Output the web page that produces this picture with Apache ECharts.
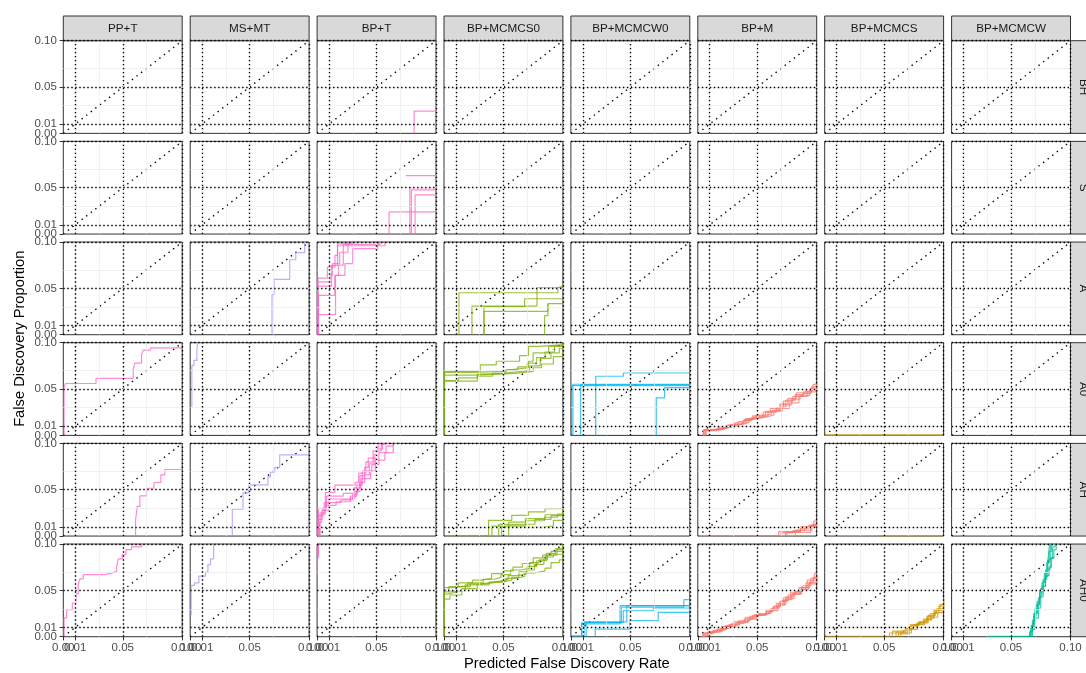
<!DOCTYPE html>
<html>
<head>
<meta charset="utf-8">
<script src="https://cdn.jsdelivr.net/npm/echarts@6/dist/echarts.min.js"></script>
<style>
  html, body { margin: 0; padding: 0; background: #fff; }
  #chart { width: 1086px; height: 673px; }
</style>
</head>
<body>
<div id="chart"></div>
<script>
// Facet labels
const methods = ['PP+T', 'MS+MT', 'BP+T', 'BP+MCMCS0', 'BP+MCMCW0', 'BP+M', 'BP+MCMCS', 'BP+MCMCW'];
const scenarios = ['BH', 'S', 'A', 'A0', 'AH', 'AH0'];
const methodColors = ['#FF61C3', '#A496FF', '#FF61C3', '#7CAE00', '#00B4EF', '#F8766D', '#CD9600', '#00BE9A'];

// Axis breaks
const tickValues = [0, 0.01, 0.05, 0.10];
const labelValues = [0.01, 0.05, 0.10];
const originLabel = [0];
const refLines = [0.01, 0.05, 0.10];
const majorBreaks = [0.01, 0.05];
const minorBreaks = [0.005, 0.03, 0.075];

// Observed FDP vs predicted FDR, one step curve per replicate: [predicted FDR, FDP]
const BH_BPT = [
  [[0.0816, 0], [0.0816, 0.0241], [0.1, 0.0241]]
];
const S_BPT = [
  [[0.0746, 0.0631], [0.1, 0.0631]],
  [[0.0780, 0], [0.0780, 0.0500], [0.1, 0.0500]],
  [[0.0793, 0], [0.0793, 0.0477], [0.1, 0.0477]],
  [[0.0824, 0], [0.0824, 0.0423], [0.1, 0.0423]],
  [[0.0605, 0], [0.0605, 0.0240], [0.1, 0.0240]]
];
const A_MSMT = [
  [[0.0688, 0], [0.0688, 0.0432], [0.0705, 0.0597], [0.0837, 0.0809], [0.0888, 0.0885], [0.0963, 0.105]]
];
const A_BPT = [
  [[0.0003, 0], [0.0003, 0.0216], [0.0155, 0.064], [0.018, 0.075], [0.022, 0.0975], [0.053, 0.105]],
  [[0.0006, 0], [0.0006, 0.0525], [0.0121, 0.0748], [0.0172, 0.098], [0.031, 0.105]],
  [[0.0012, 0], [0.0012, 0.0424], [0.0149, 0.064], [0.0234, 0.0766], [0.030, 0.093], [0.051, 0.0946], [0.051, 0.105]],
  [[0.0008, 0], [0.0008, 0.061], [0.0087, 0.073], [0.015, 0.0856], [0.0172, 0.096], [0.057, 0.105]],
  [[0.0004, 0], [0.0004, 0.057], [0.0107, 0.064], [0.0129, 0.0766], [0.019, 0.089], [0.026, 0.105]]
];
const A_BPMCMCS0 = [
  [[0.0126, 0], [0.0126, 0.0453], [0.0958, 0.0507], [0.1, 0.0507]],
  [[0.0235, 0], [0.0235, 0.0309], [0.0782, 0.0507], [0.0958, 0.0525], [0.1, 0.0525]],
  [[0.0336, 0], [0.0336, 0.0302], [0.0678, 0.0388], [0.1, 0.0388]],
  [[0.0336, 0], [0.0336, 0.0252], [0.0874, 0.0335], [0.1, 0.0335]],
  [[0.0846, 0], [0.0846, 0.0205], [0.0874, 0.0335]]
];
const A0_PPT = [
  [[0.0006, 0], [0.0006, 0.052], [0.002, 0.056], [0.0275, 0.0615], [0.0588, 0.0709], [0.0602, 0.078],
   [0.0658, 0.0876], [0.0672, 0.092], [0.0734, 0.0945], [0.1, 0.0945]]
];
const A0_MSMT = [
  [[0.0014, 0.030], [0.0014, 0.0756], [0.0031, 0.081], [0.0056, 0.090], [0.0065, 0.105]]
];
const A0_BPMCMCS0 = [
  [[0.0005, 0], [0.0005, 0.069], [0.0305, 0.076], [0.044, 0.080], [0.0635, 0.086], [0.071, 0.096], [0.080, 0.098], [0.1, 0.1]],
  [[0, 0.068], [0.025, 0.069], [0.050, 0.071], [0.057, 0.073], [0.071, 0.080], [0.075, 0.089], [0.088, 0.096], [0.1, 0.098]],
  [[0, 0.065], [0.025, 0.067], [0.050, 0.068], [0.057, 0.069], [0.066, 0.070], [0.072, 0.075], [0.081, 0.083], [0.090, 0.089], [0.097, 0.094], [0.1, 0.096]],
  [[0, 0.059], [0.012, 0.062], [0.028, 0.066], [0.045, 0.067], [0.060, 0.069], [0.075, 0.073], [0.082, 0.077], [0.092, 0.085], [0.1, 0.090]],
  [[0, 0.0585], [0.028, 0.064], [0.041, 0.067], [0.052, 0.071], [0.062, 0.074], [0.070, 0.078], [0.078, 0.084], [0.085, 0.090], [0.093, 0.097], [0.1, 0.099]]
];
const A0_BPMCMCW0 = [
  [[0.0006, 0], [0.0006, 0.0536], [0.1, 0.0536]],
  [[0.0017, 0], [0.0017, 0.0552], [0.1, 0.0552]],
  [[0.0082, 0], [0.0082, 0.0547], [0.1, 0.0547]],
  [[0.0209, 0], [0.0209, 0.0638], [0.0441, 0.0673], [0.1, 0.0673]],
  [[0.0718, 0], [0.0718, 0.0405], [0.0788, 0.0515], [0.1, 0.0515]]
];
const A0_BPM = [
  [[0.0045, 0], [0.0045, 0.0055], [0.012, 0.0062], [0.022, 0.0095], [0.030, 0.012], [0.038, 0.016], [0.045, 0.019], [0.052, 0.021],
   [0.059, 0.025], [0.066, 0.030], [0.072, 0.037], [0.080, 0.042], [0.088, 0.045], [0.095, 0.051], [0.1, 0.053]],
  [[0.0065, 0], [0.0065, 0.006], [0.015, 0.008], [0.026, 0.011], [0.034, 0.015], [0.040, 0.018], [0.049, 0.022], [0.057, 0.026],
   [0.063, 0.028], [0.069, 0.034], [0.076, 0.040], [0.083, 0.046], [0.091, 0.049], [0.097, 0.055], [0.1, 0.056]],
  [[0.0048, 0], [0.0048, 0.006], [0.018, 0.009], [0.028, 0.012], [0.036, 0.014], [0.043, 0.018], [0.050, 0.020], [0.058, 0.022],
   [0.064, 0.026], [0.071, 0.029], [0.077, 0.035], [0.085, 0.042], [0.092, 0.047], [0.1, 0.050]],
  [[0.0055, 0], [0.0055, 0.0065], [0.020, 0.0085], [0.025, 0.011], [0.033, 0.013], [0.041, 0.017], [0.047, 0.020], [0.055, 0.025],
   [0.061, 0.029], [0.068, 0.031], [0.074, 0.038], [0.082, 0.044], [0.089, 0.047], [0.096, 0.053], [0.1, 0.058]],
  [[0.007, 0], [0.007, 0.005], [0.016, 0.0075], [0.023, 0.010], [0.031, 0.0135], [0.039, 0.017], [0.046, 0.021], [0.054, 0.023],
   [0.062, 0.027], [0.070, 0.033], [0.079, 0.039], [0.086, 0.043], [0.094, 0.049], [0.1, 0.051]]
];
const A0_BPMCMCS = [
  [[0, 0.0003], [0.1, 0.0003]],
  [[0, 0.0002], [0.1, 0.0002]]
];
const AH_PPT = [
  [[0.0608, 0], [0.0608, 0.017], [0.0622, 0.032], [0.0644, 0.0433], [0.070, 0.0516], [0.0762, 0.0578], [0.0821, 0.066], [0.0854, 0.0718], [0.1, 0.0718]]
];
const AH_MSMT = [
  [[0.0354, 0], [0.0354, 0.0289], [0.0444, 0.0466], [0.0494, 0.0552], [0.0654, 0.0639], [0.0674, 0.069], [0.0711, 0.074], [0.0753, 0.0877], [0.1, 0.0877]]
];
const AH_BPT = [
  [[0.0008, 0], [0.0008, 0.022], [0.005, 0.030], [0.008, 0.043], [0.022, 0.046], [0.031, 0.052], [0.036, 0.065], [0.040, 0.074], [0.043, 0.084], [0.050, 0.094], [0.055, 0.1], [0.060, 0.105]],
  [[0.002, 0], [0.002, 0.015], [0.004, 0.028], [0.010, 0.040], [0.028, 0.043], [0.033, 0.055], [0.038, 0.070], [0.046, 0.077], [0.052, 0.090], [0.058, 0.097], [0.064, 0.105]],
  [[0.0012, 0], [0.0012, 0.030], [0.007, 0.047], [0.015, 0.055], [0.032, 0.058], [0.035, 0.068], [0.041, 0.080], [0.047, 0.092], [0.054, 0.099], [0.057, 0.105]],
  [[0.0025, 0], [0.0025, 0.025], [0.006, 0.036], [0.020, 0.039], [0.030, 0.045], [0.034, 0.050], [0.037, 0.062], [0.045, 0.070], [0.049, 0.082], [0.057, 0.090], [0.064, 0.1], [0.068, 0.105]],
  [[0.0005, 0], [0.0005, 0.018], [0.004, 0.024], [0.007, 0.033], [0.016, 0.037], [0.028, 0.041], [0.032, 0.048], [0.036, 0.058], [0.040, 0.066], [0.044, 0.078], [0.048, 0.088], [0.050, 0.096], [0.052, 0.105]]
];
const AH_BPMCMCS0 = [
  [[0, 0.0005], [0.0375, 0.0005], [0.0375, 0.017], [0.057, 0.0224], [0.071, 0.026], [0.085, 0.0296], [0.1, 0.031]],
  [[0.0403, 0], [0.0403, 0.0108], [0.0544, 0.015], [0.0685, 0.0188], [0.085, 0.023], [0.1, 0.026]],
  [[0.0544, 0], [0.0544, 0.011], [0.0685, 0.0165], [0.0845, 0.0203], [0.0955, 0.0238], [0.1, 0.0245]],
  [[0.046, 0], [0.046, 0.0125], [0.062, 0.0128], [0.0765, 0.018], [0.090, 0.022], [0.1, 0.028]],
  [[0.0485, 0], [0.0485, 0.0095], [0.0645, 0.0095], [0.0845, 0.011], [0.092, 0.017], [0.1, 0.019]]
];
const AH_BPM = [
  [[0, 0.0005], [0.068, 0.0005], [0.068, 0.0047], [0.0863, 0.010], [0.0975, 0.0162], [0.1, 0.0162]],
  [[0.0737, 0], [0.0737, 0.0047], [0.0863, 0.0085], [0.0933, 0.0115], [0.1, 0.012]],
  [[0.070, 0], [0.070, 0.0035], [0.080, 0.006], [0.090, 0.0098], [0.1, 0.011]],
  [[0.075, 0], [0.075, 0.004], [0.095, 0.0115], [0.1, 0.014]],
  [[0.082, 0], [0.082, 0.0065], [0.096, 0.0125], [0.1, 0.0125]]
];
const AH_BPMCMCS = [
  [[0.045, 0.0002], [0.1, 0.0002]]
];
const AH0_PPT = [
  [[0.0006, 0], [0.0006, 0.0204], [0.0028, 0.0293], [0.0076, 0.0364], [0.0106, 0.0464], [0.0126, 0.0564], [0.014, 0.0625], [0.0168, 0.0671],
   [0.035, 0.0686], [0.0406, 0.0707], [0.0448, 0.075], [0.0462, 0.084], [0.0496, 0.0886], [0.0527, 0.094], [0.0574, 0.097], [0.0658, 0.102]]
];
const AH0_MSMT = [
  [[0.0008, 0.0232], [0.0008, 0.0554], [0.0037, 0.058], [0.0073, 0.0654], [0.0129, 0.0696], [0.0149, 0.0779], [0.0171, 0.084], [0.0197, 0.102]]
];
const AH0_BPT = [
  [[0.0003, 0.070], [0.0003, 0.102]],
  [[0.0012, 0.085], [0.0012, 0.102]],
  [[0.0008, 0.090], [0.0008, 0.102]]
];
const AH0_BPMCMCS0 = [
  [[0.0003, 0], [0.0003, 0.050], [0.004, 0.054], [0.012, 0.058], [0.024, 0.061], [0.031, 0.063], [0.040, 0.068], [0.050, 0.071], [0.058, 0.075],
   [0.066, 0.079], [0.075, 0.085], [0.083, 0.088], [0.090, 0.092], [0.1, 0.097]],
  [[0, 0.053], [0.008, 0.055], [0.020, 0.058], [0.033, 0.062], [0.042, 0.064], [0.048, 0.067], [0.056, 0.072], [0.065, 0.074], [0.072, 0.080],
   [0.080, 0.083], [0.087, 0.088], [0.095, 0.094], [0.1, 0.1]],
  [[0, 0.0485], [0.006, 0.050], [0.018, 0.056], [0.027, 0.058], [0.036, 0.060], [0.047, 0.062], [0.054, 0.066], [0.062, 0.068], [0.070, 0.072],
   [0.076, 0.078], [0.084, 0.086], [0.092, 0.089], [0.1, 0.092]],
  [[0, 0.046], [0.003, 0.048], [0.010, 0.054], [0.022, 0.057], [0.035, 0.059], [0.045, 0.060], [0.052, 0.063], [0.060, 0.065], [0.068, 0.069],
   [0.077, 0.071], [0.085, 0.074], [0.090, 0.080], [0.097, 0.083], [0.1, 0.087]],
  [[0, 0.0405], [0.005, 0.045], [0.015, 0.052], [0.028, 0.056], [0.038, 0.059], [0.049, 0.061], [0.057, 0.064], [0.063, 0.070], [0.070, 0.076],
   [0.078, 0.082], [0.086, 0.090], [0.094, 0.095], [0.1, 0.098]]
];
const AH0_BPMCMCW0 = [
  [[0, 0.001], [0.0092, 0.001], [0.0092, 0.0137], [0.0413, 0.0335], [0.1, 0.0345]],
  [[0.0128, 0], [0.0128, 0.0155], [0.0441, 0.028], [0.0693, 0.031], [0.1, 0.031]],
  [[0.0204, 0], [0.0204, 0.0083], [0.0497, 0.0173], [0.0734, 0.0263], [0.1, 0.026]],
  [[0.009, 0], [0.009, 0.015], [0.0425, 0.032], [0.095, 0.040], [0.1, 0.040]],
  [[0.011, 0], [0.011, 0.016], [0.047, 0.0335], [0.1, 0.037]]
];
const AH0_BPM = [
  [[0.0035, 0], [0.0035, 0.002], [0.010, 0.005], [0.019, 0.009], [0.026, 0.013], [0.034, 0.017], [0.040, 0.021], [0.048, 0.024], [0.055, 0.026],
   [0.061, 0.030], [0.066, 0.036], [0.072, 0.042], [0.078, 0.048], [0.085, 0.053], [0.092, 0.061], [0.098, 0.068], [0.1, 0.069]],
  [[0.006, 0], [0.006, 0.004], [0.014, 0.007], [0.023, 0.012], [0.030, 0.016], [0.037, 0.018], [0.044, 0.022], [0.051, 0.025], [0.058, 0.029],
   [0.064, 0.033], [0.070, 0.039], [0.076, 0.045], [0.082, 0.049], [0.088, 0.055], [0.095, 0.063], [0.1, 0.067]],
  [[0.004, 0], [0.004, 0.003], [0.012, 0.006], [0.021, 0.010], [0.028, 0.014], [0.036, 0.016], [0.043, 0.019], [0.050, 0.023], [0.057, 0.027],
   [0.063, 0.032], [0.069, 0.038], [0.075, 0.041], [0.081, 0.046], [0.087, 0.051], [0.093, 0.057], [0.1, 0.064]],
  [[0.008, 0], [0.008, 0.005], [0.016, 0.008], [0.024, 0.011], [0.032, 0.015], [0.039, 0.019], [0.046, 0.023], [0.053, 0.025], [0.060, 0.028],
   [0.067, 0.034], [0.073, 0.040], [0.079, 0.046], [0.086, 0.050], [0.091, 0.058], [0.097, 0.064], [0.1, 0.065]],
  [[0.005, 0], [0.005, 0.004], [0.013, 0.0065], [0.020, 0.011], [0.027, 0.013], [0.035, 0.016], [0.042, 0.020], [0.049, 0.024], [0.056, 0.026],
   [0.062, 0.029], [0.068, 0.035], [0.074, 0.043], [0.080, 0.047], [0.087, 0.053], [0.094, 0.059], [0.1, 0.066]]
];
const AH0_BPMCMCS = [
  [[0, 0.0005], [0.0546, 0.0005], [0.0546, 0.004], [0.066, 0.007], [0.072, 0.013], [0.080, 0.016], [0.086, 0.022], [0.092, 0.029], [0.097, 0.035], [0.1, 0.042]],
  [[0.060, 0], [0.060, 0.005], [0.070, 0.010], [0.077, 0.014], [0.083, 0.019], [0.089, 0.025], [0.094, 0.030], [0.1, 0.035]],
  [[0.064, 0], [0.064, 0.004], [0.073, 0.012], [0.079, 0.016], [0.086, 0.020], [0.092, 0.026], [0.096, 0.033], [0.1, 0.038]],
  [[0.057, 0], [0.057, 0.006], [0.068, 0.009], [0.075, 0.013], [0.084, 0.018], [0.090, 0.021], [0.095, 0.026], [0.1, 0.027]],
  [[0.062, 0], [0.062, 0.003], [0.071, 0.008], [0.078, 0.015], [0.087, 0.023], [0.093, 0.028], [0.1, 0.030]]
];
const AH0_BPMCMCW = [
  [[0.030, 0.0003], [0.066, 0.0003], [0.066, 0.006], [0.068, 0.015], [0.070, 0.026], [0.072, 0.036], [0.074, 0.048], [0.076, 0.058], [0.078, 0.068], [0.080, 0.080], [0.082, 0.092], [0.084, 0.102]],
  [[0.0665, 0], [0.0665, 0.010], [0.069, 0.022], [0.071, 0.034], [0.074, 0.045], [0.076, 0.054], [0.079, 0.066], [0.082, 0.075], [0.084, 0.085], [0.086, 0.094], [0.088, 0.102]],
  [[0.068, 0], [0.068, 0.008], [0.070, 0.020], [0.073, 0.031], [0.075, 0.043], [0.077, 0.055], [0.079, 0.065], [0.081, 0.073], [0.083, 0.085], [0.085, 0.097], [0.087, 0.102]],
  [[0.067, 0], [0.067, 0.012], [0.069, 0.025], [0.072, 0.038], [0.074, 0.050], [0.077, 0.060], [0.079, 0.072], [0.081, 0.083], [0.083, 0.095], [0.0835, 0.102]],
  [[0.0655, 0], [0.0655, 0.005], [0.068, 0.018], [0.070, 0.030], [0.073, 0.042], [0.075, 0.052], [0.077, 0.062], [0.080, 0.070], [0.0815, 0.088], [0.0825, 0.102]]
];

// Which facet each set of replicate curves belongs to
const curveSets = [
  ['BH', 'BP+T', BH_BPT],
  ['S', 'BP+T', S_BPT],
  ['A', 'MS+MT', A_MSMT],
  ['A', 'BP+T', A_BPT],
  ['A', 'BP+MCMCS0', A_BPMCMCS0],
  ['A0', 'PP+T', A0_PPT],
  ['A0', 'MS+MT', A0_MSMT],
  ['A0', 'BP+MCMCS0', A0_BPMCMCS0],
  ['A0', 'BP+MCMCW0', A0_BPMCMCW0],
  ['A0', 'BP+M', A0_BPM],
  ['A0', 'BP+MCMCS', A0_BPMCMCS],
  ['AH', 'PP+T', AH_PPT],
  ['AH', 'MS+MT', AH_MSMT],
  ['AH', 'BP+T', AH_BPT],
  ['AH', 'BP+MCMCS0', AH_BPMCMCS0],
  ['AH', 'BP+M', AH_BPM],
  ['AH', 'BP+MCMCS', AH_BPMCMCS],
  ['AH0', 'PP+T', AH0_PPT],
  ['AH0', 'MS+MT', AH0_MSMT],
  ['AH0', 'BP+T', AH0_BPT],
  ['AH0', 'BP+MCMCS0', AH0_BPMCMCS0],
  ['AH0', 'BP+MCMCW0', AH0_BPMCMCW0],
  ['AH0', 'BP+M', AH0_BPM],
  ['AH0', 'BP+MCMCS', AH0_BPMCMCS],
  ['AH0', 'BP+MCMCW', AH0_BPMCMCW]
];

// Panel layout (px)
const FONT = '"Liberation Sans", Arial, sans-serif';
const LEFT0 = 63.3, COL_PITCH = 126.9, PANEL_W = 118.9;
const TOP0 = 40.7, ROW_PITCH = 100.67, PANEL_H = 92.67;
const STRIP = 24.7;
const NC = methods.length;

const grids = [], xAxes = [], yAxes = [], series = [], graphics = [];
const extraX = [], extraY = [];

const fmt = v => v.toFixed(2);
const tickLabel = (values, show, margin) => ({
  show: show, customValues: values, formatter: fmt,
  showMinLabel: true, showMaxLabel: true, hideOverlap: false,
  color: '#4d4d4d', fontSize: 11.5, fontFamily: FONT, margin: margin
});

scenarios.forEach((sc, r) => {
  methods.forEach((m, c) => {
    const i = r * NC + c;
    const bottomRow = r === scenarios.length - 1;
    const leftCol = c === 0;
    grids.push({
      left: LEFT0 + c * COL_PITCH, top: TOP0 + r * ROW_PITCH,
      width: PANEL_W, height: PANEL_H,
      show: true, backgroundColor: '#fff', borderColor: '#333', borderWidth: 1
    });
    xAxes.push({
      type: 'value', gridIndex: i, min: 0, max: 0.1, position: 'bottom',
      axisLine: { show: false }, splitLine: { show: false },
      axisTick: { show: bottomRow, customValues: tickValues, length: 3.7, lineStyle: { color: '#333', width: 1 } },
      axisLabel: tickLabel(labelValues, bottomRow, 5.5)
    });
    yAxes.push({
      type: 'value', gridIndex: i, min: 0, max: 0.1, position: 'left',
      axisLine: { show: false }, splitLine: { show: false },
      axisTick: { show: leftCol, customValues: tickValues, length: 3.7, lineStyle: { color: '#333', width: 1 } },
      axisLabel: tickLabel(labelValues, leftCol, 6.5)
    });
    // separate axes carry the "0.00" origin label so it can overlap its neighbour
    if (bottomRow) {
      extraX.push({
        type: 'value', gridIndex: i, min: 0, max: 0.1, position: 'bottom', offset: 0,
        axisLine: { show: false }, splitLine: { show: false }, axisTick: { show: false },
        axisLabel: tickLabel(originLabel, true, 5.5)
      });
    }
    if (leftCol) {
      extraY.push({
        type: 'value', gridIndex: i, min: 0, max: 0.1, position: 'left', offset: 0,
        axisLine: { show: false }, splitLine: { show: false }, axisTick: { show: false },
        axisLabel: tickLabel(originLabel, true, 6.5)
      });
    }

    // light background grid
    series.push({
      type: 'line', xAxisIndex: i, yAxisIndex: i, data: [], silent: true, animation: false, z: 1,
      markLine: {
        silent: true, animation: false, symbol: ['none', 'none'], label: { show: false },
        emphasis: { disabled: true },
        lineStyle: { color: '#ebebeb', type: 'solid', width: 1 },
        data: [
          ...minorBreaks.map(v => ({ xAxis: v, lineStyle: { width: 0.7 } })),
          ...minorBreaks.map(v => ({ yAxis: v, lineStyle: { width: 0.7 } })),
          ...majorBreaks.map(v => ({ xAxis: v })),
          ...majorBreaks.map(v => ({ yAxis: v }))
        ]
      }
    });

    // dotted reference lines: identity diagonal plus fixed FDR levels
    series.push({
      type: 'line', xAxisIndex: i, yAxisIndex: i, data: [[0, 0], [0.1, 0.1]],
      symbol: 'none', silent: true, animation: false, z: 2, clip: true,
      lineStyle: { color: '#000', width: 1.4, type: [1.4, 4.4] },
      markLine: {
        silent: true, animation: false, symbol: ['none', 'none'], label: { show: false },
        emphasis: { disabled: true },
        lineStyle: { color: '#000', type: [1.4, 2.6], width: 1.4 },
        data: [
          ...refLines.map(v => ({ xAxis: v })),
          ...refLines.map(v => ({ yAxis: v }))
        ]
      }
    });
  });
});

// replicate curves
curveSets.forEach(([sc, m, curves]) => {
  const r = scenarios.indexOf(sc), c = methods.indexOf(m);
  const i = r * NC + c;
  curves.forEach(pts => {
    series.push({
      type: 'line', xAxisIndex: i, yAxisIndex: i, data: pts, step: 'end',
      symbol: 'none', showSymbol: false, clip: true, silent: true, animation: false, z: 3,
      lineStyle: { color: methodColors[c], width: 1.2, opacity: 0.75 }
    });
  });
});

// facet strips: methods on top, scenarios on the right
methods.forEach((m, c) => {
  const x = LEFT0 + c * COL_PITCH;
  graphics.push({
    type: 'rect', shape: { x: x, y: TOP0 - STRIP, width: PANEL_W, height: STRIP },
    style: { fill: '#d9d9d9', stroke: '#333', lineWidth: 1 }, silent: true
  });
  graphics.push({
    type: 'text', x: x + PANEL_W / 2, y: TOP0 - STRIP / 2,
    style: { text: m, fill: '#1a1a1a', font: '11.7px ' + FONT, textAlign: 'center', textVerticalAlign: 'middle', align: 'center', verticalAlign: 'middle' },
    silent: true
  });
});
const stripX = LEFT0 + (NC - 1) * COL_PITCH + PANEL_W;
scenarios.forEach((sc, r) => {
  const y = TOP0 + r * ROW_PITCH;
  graphics.push({
    type: 'rect', shape: { x: stripX, y: y, width: STRIP, height: PANEL_H },
    style: { fill: '#d9d9d9', stroke: '#333', lineWidth: 1 }, silent: true
  });
  graphics.push({
    type: 'text', x: stripX + STRIP / 2, y: y + PANEL_H / 2, rotation: -Math.PI / 2,
    style: { text: sc, fill: '#1a1a1a', font: '11.7px ' + FONT, textAlign: 'center', textVerticalAlign: 'middle', align: 'center', verticalAlign: 'middle' },
    silent: true
  });
});

// axis titles
graphics.push({
  type: 'text', x: 20, y: TOP0 + (5 * ROW_PITCH + PANEL_H) / 2, rotation: Math.PI / 2,
  style: { text: 'False Discovery Proportion', fill: '#000', font: '14.7px ' + FONT, textAlign: 'center', textVerticalAlign: 'middle', align: 'center', verticalAlign: 'middle' },
  silent: true
});
graphics.push({
  type: 'text', x: LEFT0 + (7 * COL_PITCH + PANEL_W) / 2, y: 663.5,
  style: { text: 'Predicted False Discovery Rate', fill: '#000', font: '14.7px ' + FONT, textAlign: 'center', textVerticalAlign: 'middle', align: 'center', verticalAlign: 'middle' },
  silent: true
});

const chart = echarts.init(document.getElementById('chart'), null, { renderer: 'canvas', width: 1086, height: 673 });
chart.setOption({
  animation: false,
  backgroundColor: '#fff',
  grid: grids,
  xAxis: xAxes.concat(extraX),
  yAxis: yAxes.concat(extraY),
  series: series,
  graphic: { elements: graphics }
});
</script>
</body>
</html>
